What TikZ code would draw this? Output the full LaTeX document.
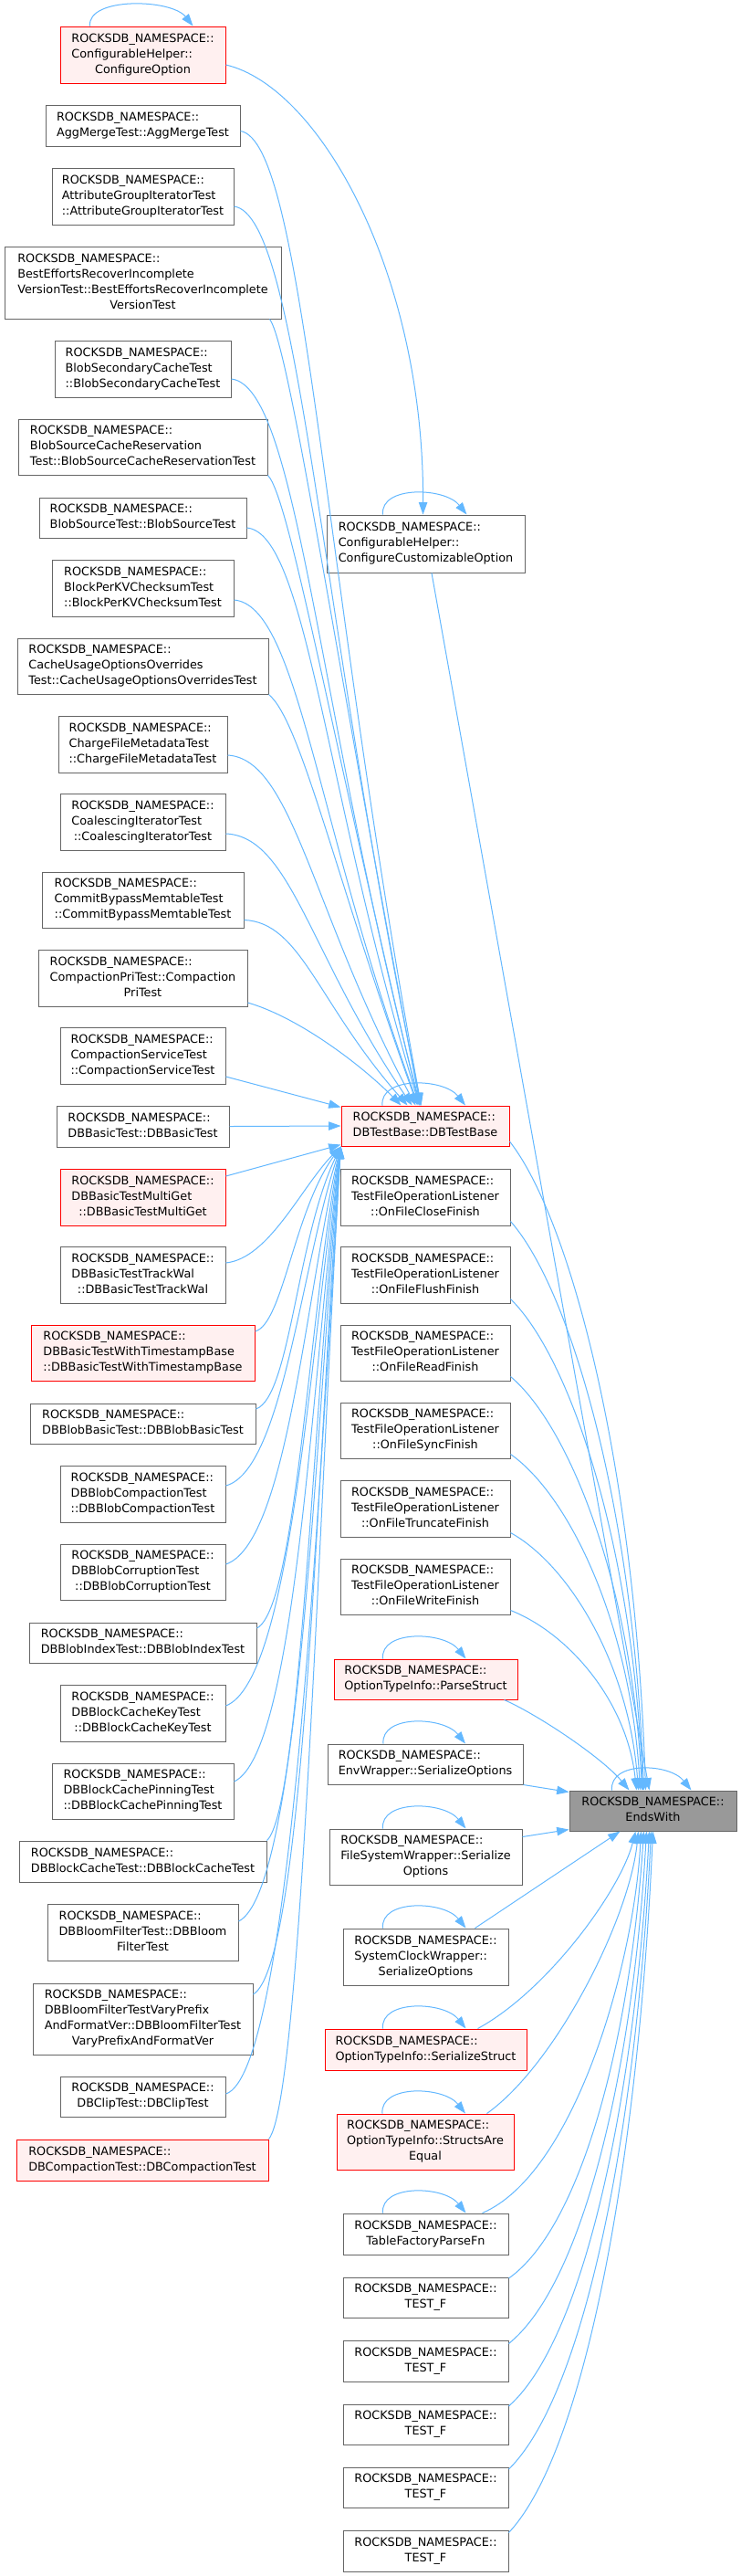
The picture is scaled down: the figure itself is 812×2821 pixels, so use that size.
\documentclass[tikz,border=0pt]{standalone}
\usepackage{fontspec}
\setmainfont{DejaVu Sans}
\usetikzlibrary{arrows.meta,calc}
\definecolor{edgeblue}{HTML}{63B8FF}
\definecolor{boxgray}{HTML}{666666}
\definecolor{redfill}{HTML}{FFF0F0}
\definecolor{hlfill}{HTML}{999999}
\newcommand\ns{ROCKSDB\_NAMESPACE::}
\newcommand\lb[2]{\begin{tabular}{@{}l@{}}#1\\\multicolumn{1}{@{}c@{}}{#2}\end{tabular}}
\newcommand\nd[6]{\node[#1, minimum width=#4*0.75pt, minimum height=#5*0.75pt] (#2) at (#3) {#6};}
\newcommand\selfloop[3]{\draw[conn] ($(#1.north)+(#2,0)$) .. controls +(-3,-32) and +(-24,-30) .. ($(#1.north)+(#3,0)$);}
\begin{document}
\begin{tikzpicture}[x=0.75pt,y=-0.75pt,
 box/.style={draw=boxgray, fill=white, line width=0.75pt, inner sep=0pt, font=\fontsize{9.6}{12.75}\selectfont},
 redbox/.style={box, draw=red, fill=redfill},
 hlbox/.style={box, fill=hlfill},
 conn/.style={draw=edgeblue, line width=0.75pt, -{Triangle[length=10pt,width=7pt]}}]
\useasboundingbox[fill=white] (0,0) rectangle (812,2821);

% left column
\nd{redbox}{cfgopt}{156.5,60}{181}{62}{\lb{\ns\\ConfigurableHelper::}{ConfigureOption}}
\nd{box}{aggmerge}{156.5,137.5}{213}{45}{\lb{\ns}{AggMergeTest::AggMergeTest}}
\nd{box}{attrgrp}{156.5,215}{199}{62}{\lb{\ns\\AttributeGroupIteratorTest}{::AttributeGroupIteratorTest}}
\nd{box}{besteff}{156.5,309.5}{303}{79}{\lb{\ns\\BestEffortsRecoverIncomplete\\VersionTest::BestEffortsRecoverIncomplete}{VersionTest}}
\nd{box}{blobsec}{156.5,404}{193}{62}{\lb{\ns\\BlobSecondaryCacheTest}{::BlobSecondaryCacheTest}}
\nd{box}{blobscr}{156.5,489.5}{273}{61}{\lb{\ns\\BlobSourceCacheReservation}{Test::BlobSourceCacheReservationTest}}
\nd{box}{blobsrc}{156.5,567}{227}{44}{\lb{\ns}{BlobSourceTest::BlobSourceTest}}
\nd{box}{blockkv}{156.5,644}{199}{62}{\lb{\ns\\BlockPerKVChecksumTest}{::BlockPerKVChecksumTest}}
\nd{box}{cacheuse}{156.5,729.5}{275}{61}{\lb{\ns\\CacheUsageOptionsOverrides}{Test::CacheUsageOptionsOverridesTest}}
\nd{box}{chargefm}{156.5,815}{185}{62}{\lb{\ns\\ChargeFileMetadataTest}{::ChargeFileMetadataTest}}
\nd{box}{coalesc}{156.5,900}{181}{62}{\lb{\ns\\CoalescingIteratorTest}{::CoalescingIteratorTest}}
\nd{box}{commitbp}{156.5,985.5}{221}{61}{\lb{\ns\\CommitBypassMemtableTest}{::CommitBypassMemtableTest}}
\nd{box}{comppri}{156.5,1071}{229}{62}{\lb{\ns\\CompactionPriTest::Compaction}{PriTest}}
\nd{box}{compsvc}{156.5,1156}{181}{62}{\lb{\ns\\CompactionServiceTest}{::CompactionServiceTest}}
\nd{box}{dbbasic}{156.5,1233.5}{189}{45}{\lb{\ns}{DBBasicTest::DBBasicTest}}
\nd{redbox}{multiget}{156.5,1311}{181}{62}{\lb{\ns\\DBBasicTestMultiGet}{::DBBasicTestMultiGet}}
\nd{box}{trackwal}{156.5,1396}{181}{62}{\lb{\ns\\DBBasicTestTrackWal}{::DBBasicTestTrackWal}}
\nd{redbox}{tsbase}{156.5,1481.5}{245}{61}{\lb{\ns\\DBBasicTestWithTimestampBase}{::DBBasicTestWithTimestampBase}}
\nd{box}{blobbasic}{156.5,1559}{247}{44}{\lb{\ns}{DBBlobBasicTest::DBBlobBasicTest}}
\nd{box}{blobcomp}{156.5,1636}{181}{62}{\lb{\ns\\DBBlobCompactionTest}{::DBBlobCompactionTest}}
\nd{box}{blobcorr}{156.5,1721.5}{181}{61}{\lb{\ns\\DBBlobCorruptionTest}{::DBBlobCorruptionTest}}
\nd{box}{blobidx}{156.5,1799}{249}{44}{\lb{\ns}{DBBlobIndexTest::DBBlobIndexTest}}
\nd{box}{cachekey}{156.5,1876}{181}{62}{\lb{\ns\\DBBlockCacheKeyTest}{::DBBlockCacheKeyTest}}
\nd{box}{cachepin}{156.5,1961.5}{199}{61}{\lb{\ns\\DBBlockCachePinningTest}{::DBBlockCachePinningTest}}
\nd{box}{blockcache}{156.5,2038.5}{271}{45}{\lb{\ns}{DBBlockCacheTest::DBBlockCacheTest}}
\nd{box}{bloom}{156.5,2116}{209}{62}{\lb{\ns\\DBBloomFilterTest::DBBloom}{FilterTest}}
\nd{box}{varyprefix}{156.5,2211}{241}{78}{\lb{\ns\\DBBloomFilterTestVaryPrefix\\AndFormatVer::DBBloomFilterTest}{VaryPrefixAndFormatVer}}
\nd{box}{clip}{156.5,2296}{181}{44}{\lb{\ns}{DBClipTest::DBClipTest}}
\nd{redbox}{dbcomp}{156,2365.5}{276}{45}{\lb{\ns}{DBCompactionTest::DBCompactionTest}}

% middle column
\nd{box}{cco}{466.5,595.5}{217}{63}{\lb{\ns\\ConfigurableHelper::}{ConfigureCustomizableOption}}
\nd{redbox}{dbtb}{466,1233}{184}{44}{\lb{\ns}{DBTestBase::DBTestBase}}
\nd{box}{close}{466,1311}{186}{62}{\lb{\ns\\TestFileOperationListener}{::OnFileCloseFinish}}
\nd{box}{flush}{466,1396}{186}{62}{\lb{\ns\\TestFileOperationListener}{::OnFileFlushFinish}}
\nd{box}{read}{466,1481.5}{186}{61}{\lb{\ns\\TestFileOperationListener}{::OnFileReadFinish}}
\nd{box}{sync}{466,1566.5}{186}{61}{\lb{\ns\\TestFileOperationListener}{::OnFileSyncFinish}}
\nd{box}{trunc}{466,1652}{186}{62}{\lb{\ns\\TestFileOperationListener}{::OnFileTruncateFinish}}
\nd{box}{write}{466,1737.5}{186}{61}{\lb{\ns\\TestFileOperationListener}{::OnFileWriteFinish}}
\nd{redbox}{parse}{466.5,1839}{201}{44}{\lb{\ns}{OptionTypeInfo::ParseStruct}}
\nd{box}{env}{466,1932}{214}{44}{\lb{\ns}{EnvWrapper::SerializeOptions}}
\nd{box}{fsw}{466.5,2033.5}{211}{61}{\lb{\ns\\FileSystemWrapper::Serialize}{Options}}
\nd{box}{scw}{466.5,2143}{181}{62}{\lb{\ns\\SystemClockWrapper::}{SerializeOptions}}
\nd{redbox}{sstruct}{466.5,2244.5}{221}{45}{\lb{\ns}{OptionTypeInfo::SerializeStruct}}
\nd{redbox}{sae}{466,2345.5}{194}{61}{\lb{\ns\\OptionTypeInfo::StructsAre}{Equal}}
\nd{box}{tfp}{466.5,2446.5}{181}{45}{\lb{\ns}{TableFactoryParseFn}}
\nd{box}{tf1}{466.5,2516}{181}{44}{\lb{\ns}{TEST\_F}}
\nd{box}{tf2}{466.5,2585.5}{181}{45}{\lb{\ns}{TEST\_F}}
\nd{box}{tf3}{466.5,2655}{181}{44}{\lb{\ns}{TEST\_F}}
\nd{box}{tf4}{466.5,2724}{181}{44}{\lb{\ns}{TEST\_F}}
\nd{box}{tf5}{466.5,2793.5}{181}{45}{\lb{\ns}{TEST\_F}}

% right
\nd{hlbox}{ends}{715.5,1983}{183}{44}{\lb{\ns}{EndsWith}}

% self loops
\selfloop{cfgopt}{-58}{55}
\selfloop{cco}{-47}{45}
\selfloop{dbtb}{-47}{44}
\selfloop{parse}{-47}{44}
\selfloop{env}{-46}{44}
\selfloop{fsw}{-47}{44}
\selfloop{scw}{-47}{44}
\selfloop{sstruct}{-47}{44}
\selfloop{sae}{-47}{44}
\selfloop{tfp}{-47}{44}
\selfloop{ends}{-45}{42}

% ConfigureOption -> ConfigureCustomizableOption
\draw[conn] ($(cfgopt.east)+(0,11)$) .. controls (350,95) and (465,300) .. ($(cco.north west)+(106,0)$);

% upper edges into DBTestBase
\draw[conn] ($(aggmerge.east)+(0,6)$) .. controls (333,155) and (353,624) .. ($(dbtb.north west)+(88,0)$);
\draw[conn] ($(attrgrp.east)+(0,11)$) .. controls (328,236) and (349,669) .. ($(dbtb.north west)+(88,0)$);
\draw[conn] ($(besteff.south east)+(-13,0)$) .. controls (318,380) and (370,737) .. ($(dbtb.north west)+(87,0)$);
\draw[conn] ($(blobsec.east)+(0,11)$) .. controls (326,423) and (347,773) .. ($(dbtb.north west)+(87,0)$);
\draw[conn] (blobscr.south east) .. controls (318,545) and (368,831) .. ($(dbtb.north west)+(86,0)$);
\draw[conn] ($(blobsrc.east)+(0,11)$) .. controls (336,584) and (355,863) .. ($(dbtb.north west)+(86,0)$);
\draw[conn] ($(blockkv.east)+(0,13)$) .. controls (327,663) and (347,906) .. ($(dbtb.north west)+(85,0)$);
\draw[conn] (cacheuse.south east) .. controls (330,790) and (368,963) .. ($(dbtb.north west)+(84,0)$);
\draw[conn] ($(chargefm.east)+(0,12)$) .. controls (321,831) and (342,1000) .. ($(dbtb.north west)+(82,0)$);
\draw[conn] ($(coalesc.east)+(0,13)$) .. controls (319,916) and (339,1047) .. ($(dbtb.north west)+(78,0)$);
\draw[conn] ($(commitbp.east)+(0,22)$) .. controls (330,1010) and (348,1099) .. ($(dbtb.north west)+(73,0)$);
\draw[conn] ($(comppri.east)+(0,27)$) .. controls (330,1115) and (400,1170) .. ($(dbtb.north west)+(66,0)$);
\draw[conn] ($(compsvc.east)+(0,23)$) -- ($(dbtb.north west)+(0,2)$);
\draw[conn] (dbbasic.east) -- (dbtb.west);
\draw[conn] ($(multiget.east)+(0,-23)$) -- ($(dbtb.south west)+(0,-2)$);

% lower edges into DBTestBase
\draw[conn] ($(trackwal.east)+(0,-13)$) .. controls (295,1378) and (330,1300) .. (dbtb.south west);
\draw[conn] ($(tsbase.east)+(0,-23.5)$) .. controls (310,1450) and (322,1326) .. (dbtb.south west);
\draw[conn] ($(blobbasic.east)+(0,-16)$) .. controls (318,1530) and (325,1356) .. (dbtb.south west);
\draw[conn] ($(blobcomp.east)+(0,-9)$) .. controls (310,1610) and (330,1385) .. (dbtb.south west);
\draw[conn] ($(blobcorr.east)+(0,-8.5)$) .. controls (315,1690) and (335,1415) .. (dbtb.south west);
\draw[conn] ($(blobidx.east)+(0,-16)$) .. controls (325,1760) and (338,1440) .. (dbtb.south west);
\draw[conn] ($(cachekey.east)+(0,-8)$) .. controls (320,1840) and (340,1470) .. (dbtb.south west);
\draw[conn] ($(cachepin.east)+(0,-10.5)$) .. controls (325,1920) and (342,1500) .. (dbtb.south west);
\draw[conn] (blockcache.north east) .. controls (330,1980) and (344,1520) .. (dbtb.south west);
\draw[conn] ($(bloom.east)+(0,-12)$) .. controls (330,2070) and (346,1550) .. (dbtb.south west);
\draw[conn] ($(varyprefix.east)+(0,-27)$) .. controls (335,2150) and (348,1580) .. (dbtb.south west);
\draw[conn] ($(clip.east)+(0,-3)$) .. controls (320,2270) and (350,1620) .. (dbtb.south west);
\draw[conn] (dbcomp.north east) .. controls (330,2300) and (350,1640) .. (dbtb.south west);

% edges into EndsWith (top)
\draw[conn] ($(cco.south)+(6.5,0)$) -- ($(ends.north west)+(88,0)$);
\draw[conn] ($(dbtb.east)+(0,17)$) .. controls (625,1335) and (696,1605) .. ($(ends.north west)+(84,0)$);
\draw[conn] ($(close.south east)+(0,-5)$) .. controls (625,1412) and (694,1649) .. ($(ends.north west)+(82,0)$);
\draw[conn] ($(flush.south east)+(0,-5)$) .. controls (625,1487) and (693,1691) .. ($(ends.north west)+(81,0)$);
\draw[conn] ($(read.south east)+(0,-5)$) .. controls (624,1562) and (692,1734) .. ($(ends.north west)+(80,0)$);
\draw[conn] ($(sync.south east)+(0,-5)$) .. controls (623,1637) and (691,1777) .. ($(ends.north west)+(78,0)$);
\draw[conn] ($(trunc.south east)+(0,-5)$) .. controls (622,1713) and (689,1820) .. ($(ends.north west)+(76,0)$);
\draw[conn] ($(write.south east)+(0,-5)$) .. controls (622,1788) and (687,1862) .. ($(ends.north west)+(74,0)$);
\draw[conn] ($(parse.south east)+(-15,0)$) .. controls (590,1878) and (660,1925) .. ($(ends.north west)+(66,0)$);
\draw[conn] (env.south east) -- ($(ends.north west)+(0,2)$);
% edges into EndsWith (side / bottom)
\draw[conn] ($(fsw.east)+(0,-22)$) -- ($(ends.south west)+(0,-2)$);
\draw[conn] ($(scw.north east)+(-37,0)$) -- ($(ends.south west)+(56,0)$);
\draw[conn] ($(sstruct.north east)+(-54,0)$) .. controls (600,2180) and (680,2070) .. ($(ends.south west)+(73,0)$);
\draw[conn] ($(sae.north east)+(-30,0)$) .. controls (610,2260) and (690,2100) .. ($(ends.south west)+(76,0)$);
\draw[conn] ($(tfp.north east)+(-29,0)$) .. controls (630,2380) and (695,2150) .. ($(ends.south west)+(79,0)$);
\draw[conn] ($(tf1.east)+(0,-21)$) .. controls (639,2437) and (691,2227) .. ($(ends.south west)+(82,0)$);
\draw[conn] ($(tf2.east)+(0,-19)$) .. controls (641,2499) and (694,2259) .. ($(ends.south west)+(85,0)$);
\draw[conn] ($(tf3.east)+(0,-20)$) .. controls (642,2560) and (696,2290) .. ($(ends.south west)+(88,0)$);
\draw[conn] ($(tf4.east)+(0,-20)$) .. controls (643,2620) and (698,2321) .. ($(ends.south west)+(90,0)$);
\draw[conn] ($(tf5.east)+(0,-20)$) .. controls (644,2681) and (700,2352) .. ($(ends.south west)+(92,0)$);
\end{tikzpicture}
\end{document}
